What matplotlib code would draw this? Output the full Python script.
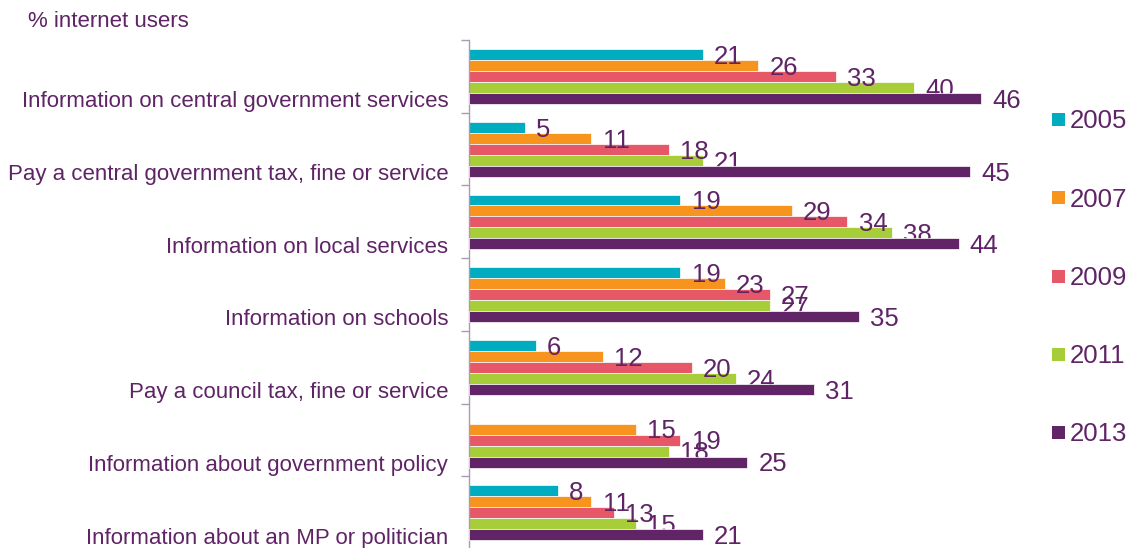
import numpy as np
import matplotlib

matplotlib.use("Agg")
import matplotlib.pyplot as plt
from matplotlib.patches import Rectangle

plt.rcParams["font.family"] = ["Liberation Sans", "DejaVu Sans"]

categories = [
    "Information on central government services",
    "Pay a central government tax, fine or service",
    "Information on local services",
    "Information on schools",
    "Pay a council tax, fine or service",
    "Information about government policy",
    "Information about an MP or politician",
]
years = ["2005", "2007", "2009", "2011", "2013"]
pct_2005 = [21, 5, 19, 19, 6, np.nan, 8]
pct_2007 = [26, 11, 29, 23, 12, 15, 11]
pct_2009 = [33, 18, 34, 27, 20, 19, 13]
pct_2011 = [40, 21, 38, 27, 24, 18, 15]
pct_2013 = [46, 45, 44, 35, 31, 25, 21]
series = [pct_2005, pct_2007, pct_2009, pct_2011, pct_2013]

colors = ["#00ACBF", "#F7941E", "#E65768", "#A7CE38", "#612466"]
TEXT = "#5F2466"
AXIS = "#A99BB0"

W, H = 1133, 548
fig = plt.figure(figsize=(W / 100, H / 100), dpi=100)
ax = fig.add_axes([469 / W, -1 / H, 556.5 / W, 509 / H])

BAR_H = 0.151
TOP_PAD = 0.125
n = len(categories)
idx = np.arange(n)

for k, (vals, col) in enumerate(zip(series, colors)):
    vals = np.asarray(vals, dtype=float)
    yc = idx + TOP_PAD + (k + 0.5) * BAR_H
    ok = ~np.isnan(vals)
    # the last series is drawn over the earlier labels
    last = k == len(series) - 1
    ax.barh(yc[ok], vals[ok], height=BAR_H, color=col, edgecolor="#FFFFFF",
            linewidth=0.5, zorder=4 if last else 2)
    for y, v in zip(yc[ok], vals[ok]):
        ax.annotate(f"{v:.0f}", xy=(v, y), xytext=(8, -6.7), textcoords="offset points",
                    ha="left", va="baseline", fontsize=18.5, color=TEXT,
                    zorder=5 if last else 3, annotation_clip=False)

# category names sit low inside each group, right-aligned against the axis
for i, name in enumerate(categories):
    ax.annotate(name, xy=(0, i + 0.926), xytext=(-15, 0), textcoords="offset points",
                ha="right", va="baseline", fontsize=16, color=TEXT,
                annotation_clip=False)

ax.set_xlim(0, 50)
ax.set_ylim(n, 0)
ax.set_xticks([])
ax.set_yticks(np.arange(n + 1))
ax.set_yticklabels([])
ax.tick_params(axis="y", length=6, width=1, color=AXIS, direction="out")
for side in ("top", "right", "bottom"):
    ax.spines[side].set_visible(False)
ax.spines["left"].set_color(AXIS)
ax.spines["left"].set_linewidth(1)
ax.patch.set_visible(False)

fig.text(28 / W, 1 - 27.3 / H, "% internet users", ha="left", va="baseline",
         fontsize=16, color=TEXT)

# legend: one swatch per year stacked down the right side
leg_y = [119, 198, 276, 354, 432]
for yr, col, yp in zip(years, colors, leg_y):
    fig.patches.append(Rectangle((1052 / W, 1 - (yp + 6.5) / H), 13 / W, 13 / H,
                                 transform=fig.transFigure, facecolor=col,
                                 edgecolor="none"))
    fig.text(1070 / W, 1 - (yp + 8.8) / H, yr, ha="left", va="baseline",
             fontsize=18.5, color=TEXT)

fig.savefig("out.png", dpi=100)
